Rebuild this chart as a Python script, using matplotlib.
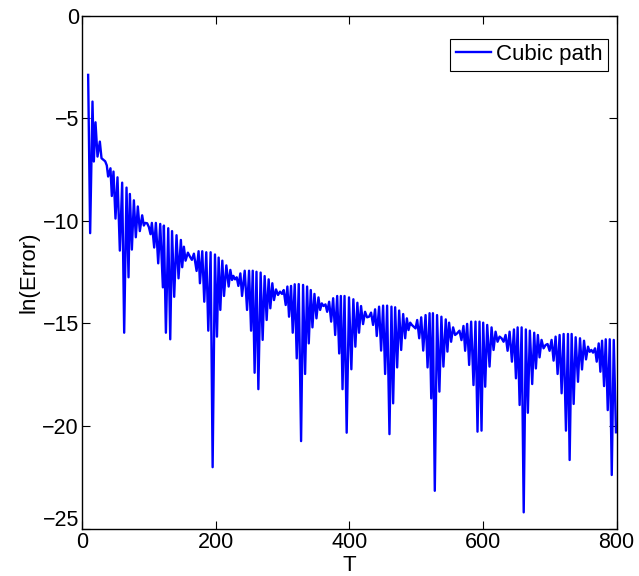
import matplotlib
matplotlib.use("Agg")
import matplotlib.pyplot as plt
import matplotlib.transforms as mtransforms

# values (T, ln of error)
t = [
    9.5, 12.5, 16, 18, 20.5, 23.5, 27, 29.5, 31.4, 35, 37.4, 39.4, 42.9, 44.9,
    47.4, 50.4, 53.4, 56.9, 60.4, 63.4, 66.9, 69.9, 71.9, 74.9, 77.9, 80.8,
    83.8, 86.8, 90.3, 92.8, 94.8, 97.8, 100.3, 102.8, 104.8, 108.3, 110.8,
    114.3, 117.3, 121.3, 122.8, 125.8, 129.3, 132.3, 135,
    138.2, 141.7, 144.7, 148.2, 150.2, 152.7, 155.2, 158.7, 161.7, 164.7,
    167.7, 171.7, 174.7, 176.7, 180.2, 183.2, 186.2, 189.2, 192.7, 195.7,
    199.2, 202.2, 204.7, 207.2, 210.2, 212.7, 216.2, 219.7, 222.2, 224.7,
    226.7, 229.2, 231.7, 234.2, 237.2, 239.7, 243.7, 247.2, 250.2, 253.2,
    255.7, 258.5, 261.3, 264.1,
    267.5, 270.5, 273.5, 276.5, 279.5, 282, 285, 287.5, 290.5, 293.5, 296.5,
    299.5, 302, 305, 307.5, 310, 313, 315.5, 318.5, 321.5, 324.5, 328, 331,
    334, 337, 339.5, 342.5, 345, 348, 351, 354, 356.5, 359, 361.5, 364.5,
    367, 370, 373, 376, 379, 382, 385, 387.5, 390, 393,
    396.2, 399.7, 403.2, 406.2, 409.2, 412.2, 414.7, 417.7, 420.7, 423.7,
    426.7, 429.7, 432.7, 435.7, 438.7, 441.2, 444.7, 447.7, 450.7, 453.7,
    456.7, 460.2, 463.2, 465.7, 468.7, 471.7, 474.7, 477.7, 480.7, 483.7,
    486.2, 488.7, 491.2, 493.7, 496.2, 499.2, 501.7, 504.7, 507.7, 510.7,
    514.2, 517.2, 520.2, 522.7, 525.2, 528,
    531.4, 534.9, 537.9, 540.9, 544.4, 546.9, 549.4, 552.4, 555.4, 558.4,
    561.4, 564.9, 567.9, 570.9, 573.4, 576.4, 579.4, 582.4, 585.9, 588.9,
    591.9, 594.9, 597.9, 600.4, 603.4, 606.4, 609.9, 612.9, 615.9, 618.9,
    621.9, 624.9, 627.9, 630.9, 633.9, 636.9, 639.9, 643.4, 646.4, 649.4,
    651.9, 654.9, 657.9, 661,
    664.2, 667.2, 670.2, 673.7, 676.7, 679.2, 682.2, 684.7, 687.7, 690.7,
    693.7, 696.7, 699.7, 702.7, 705.7, 708.7, 711.7, 714.7, 717.7, 720.7,
    724.2, 727.2, 729.7, 732.7, 735.7, 738.7, 742.2, 745.2, 748.2, 751.2,
    754.2, 757.2, 759.7, 762.2, 764.7, 767.7, 770.2, 773.2, 775.7, 778.2,
    781.2, 783.7, 786.7, 789.7, 792.7, 795.7, 799,
]

ln_error = [
    -2.89, -10.6, -4.19, -7.11, -5.2, -6.87, -6.14, -6.95, -7.0, -7.1, -7.3,
    -7.84, -7.44, -8.79, -7.6, -9.89, -7.88, -11.45, -8.14, -15.45, -8.38,
    -12.75, -8.69, -11.4, -9.0, -10.8, -9.3, -10.5, -9.73, -10.23, -10.1,
    -10.12, -10.3, -10.65, -10.1, -11.3, -10.1, -12.07, -10.15, -13.24,
    -10.23, -15.45, -10.36, -15.77, -10.5,
    -13.7, -10.7, -12.8, -10.93, -12.26, -11.26, -11.94, -11.55, -11.74,
    -11.9, -11.6, -12.44, -11.48, -13.04, -11.48, -13.94, -11.53, -15.35,
    -11.53, -22.0, -11.64, -15.64, -11.79, -14.34, -11.94, -13.66, -12.17,
    -13.2, -12.39, -12.88, -12.68, -12.85, -12.75, -13.17, -12.56, -13.66,
    -12.43, -14.34, -12.43, -15.35, -12.43, -17.4, -12.48, -18.2,
    -12.52, -15.8, -12.69, -14.83, -12.85, -14.26, -13.04, -13.86, -13.34,
    -13.61, -13.45, -13.56, -13.37, -14.1, -13.2, -14.67, -13.17, -15.45,
    -13.09, -16.7, -13.08, -20.73, -13.12, -17.46, -13.2, -15.97, -13.37,
    -15.19, -13.56, -14.75, -13.73, -14.34, -14.02, -14.15, -14.07, -14.43,
    -13.94, -14.91, -13.77, -15.56, -13.66, -16.46, -13.66, -18.2, -13.66,
    -20.32, -13.73, -17.23, -13.82, -16.13, -13.99, -15.45, -14.15, -15.03,
    -14.43, -14.7, -14.67, -14.47, -15.07, -14.31, -15.61, -14.18, -16.32,
    -14.13, -17.46, -14.13, -20.39, -14.18, -18.89, -14.21, -17.14, -14.37,
    -16.29, -14.54, -15.72, -14.75, -15.32, -14.96, -15.07, -15.15, -15.24,
    -14.83, -15.72, -14.7, -16.32, -14.59, -17.14, -14.5, -18.65, -14.5,
    -23.15,
    -14.59, -18.32, -14.67, -17.1, -14.8, -16.37, -14.96, -15.89, -15.19,
    -15.56, -15.48, -15.35, -15.81, -15.12, -16.33, -15.02, -17.02, -14.91,
    -18.0, -14.91, -20.27, -14.91, -20.22, -14.96, -18.08, -15.07, -17.1,
    -15.19, -16.29, -15.4, -15.89, -15.64, -15.72, -15.89, -15.56, -16.33,
    -15.4, -16.86, -15.29, -17.67, -15.19, -18.97, -15.19, -24.2,
    -15.29, -19.35, -15.35, -17.95, -15.45, -17.19, -15.56, -16.65, -15.8,
    -16.21, -16.05, -16.0, -16.33, -15.8, -16.81, -15.64, -17.46, -15.56,
    -18.4, -15.51, -20.22, -15.51, -21.65, -15.51, -18.92, -15.67, -17.84,
    -15.72, -17.24, -15.84, -16.75, -16.13, -16.38, -16.29, -16.42, -16.21,
    -16.86, -15.97, -17.35, -15.84, -18.05, -15.77, -19.22, -15.77, -22.38,
    -15.8, -20.3,
]

x_ticks = [0, 200, 400, 600, 800]
y_ticks = [0, -5, -10, -15, -20, -25]

plt.rcParams["font.family"] = ["Liberation Sans", "DejaVu Sans"]

fig = plt.figure(figsize=(6.39, 5.76), dpi=100)
ax = fig.add_axes([0.128, 0.082, 0.837, 0.891])

ax.plot(t, ln_error, color="#0000ff", linewidth=1.7, label="Cubic path")

ax.set_xlim(0, 800)
ax.set_ylim(-25, 0)
ax.set_xticks(x_ticks)
ax.set_yticks(y_ticks)
ax.tick_params(direction="in", top=True, right=True, length=6, width=0.8,
               labelsize=15.5, pad=2)
for s in ax.spines.values():
    s.set_linewidth(1.0)

# the bottom y label sits a little higher in the reference, clear of the "0"
lbl = ax.get_yticklabels()[-1]
lbl.set_transform(lbl.get_transform() +
                  mtransforms.ScaledTranslation(0, 8 / 72, fig.dpi_scale_trans))

ax.set_xlabel("T", fontsize=16, labelpad=2)
ax.set_ylabel("ln(Error)", fontsize=16, labelpad=2)

leg = ax.legend(loc="upper right", bbox_to_anchor=(0.984, 0.955),
                borderaxespad=0, fontsize=16, handlelength=1.6,
                handletextpad=0.2, borderpad=0.25,
                fancybox=False, framealpha=1, edgecolor="black")
leg.get_frame().set_linewidth(0.8)

fig.savefig("out.png", dpi=100)
